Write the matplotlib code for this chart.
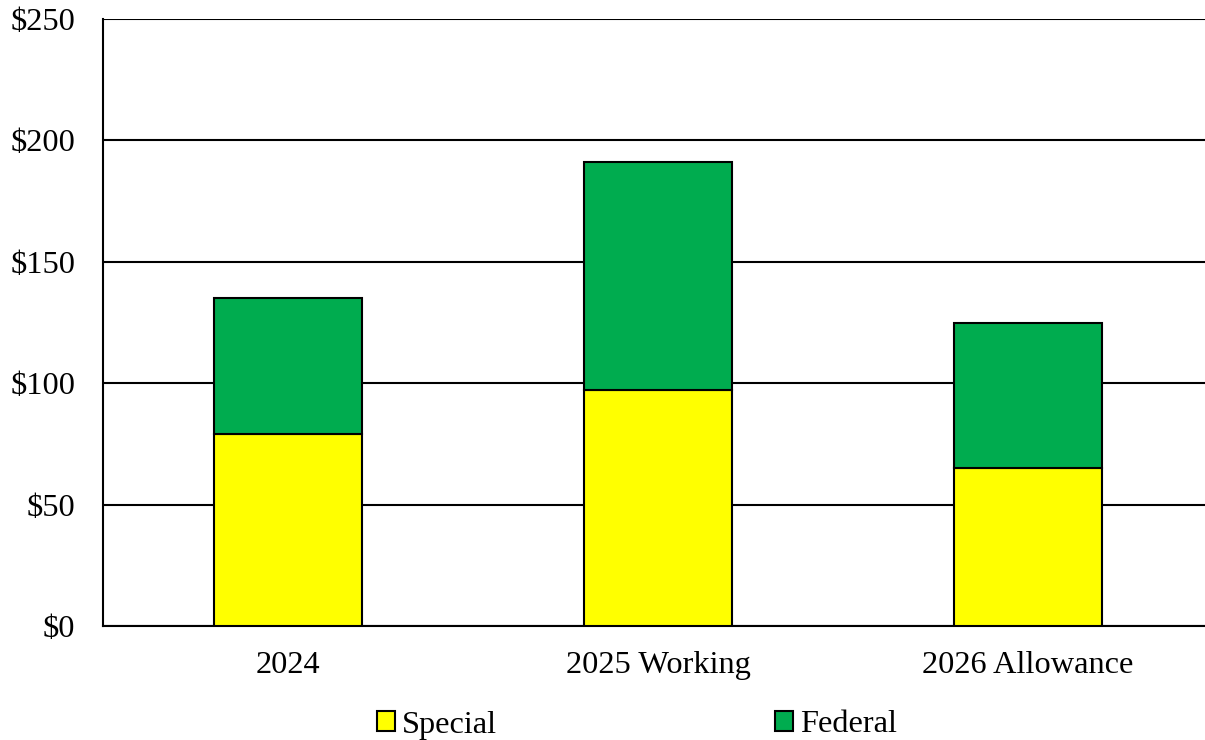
import matplotlib.pyplot as plt
from matplotlib.patches import Patch

plt.rcParams["font.family"] = ["Liberation Serif", "DejaVu Serif"]

categories = ["2024", "2025 Working", "2026 Allowance"]
special = [79, 97, 65]
federal = [56, 94, 60]

fs = 23.3

fig = plt.figure(figsize=(12.05, 7.4), dpi=100)
# axes: left 103px, right past the edge (1213px), top 19px, bottom 626px
ax = fig.add_axes([103 / 1205, 1 - 626 / 740, 1110 / 1205, 607 / 740])

x = range(len(categories))
ax.bar(x, special, width=0.4, color="#ffff00", edgecolor="black", linewidth=1.5, zorder=3)
ax.bar(x, federal, width=0.4, bottom=special, color="#00ac4f", edgecolor="black",
       linewidth=1.5, zorder=3)

ax.set_xlim(-0.5, 2.5)
ax.set_ylim(0, 250)
ax.set_yticks(range(0, 251, 50))
ax.set_yticklabels([f"${v}" for v in range(0, 251, 50)])
ax.set_xticks(list(x))
ax.set_xticklabels(categories)
ax.tick_params(axis="both", length=0, labelsize=fs, colors="black")
ax.tick_params(axis="y", pad=20)
ax.tick_params(axis="x", pad=18)

ax.yaxis.grid(True, color="black", linewidth=1.5, zorder=0)
ax.set_axisbelow(True)
for side in ["top", "right"]:
    ax.spines[side].set_visible(False)
for side in ["left", "bottom"]:
    ax.spines[side].set_linewidth(1.5)

handles = [Patch(facecolor="#ffff00", edgecolor="black", linewidth=1.5),
           Patch(facecolor="#00ac4f", edgecolor="black", linewidth=1.5)]
fig.legend(handles, ["Special", "Federal"], loc="center", bbox_to_anchor=(637 / 1205, 1 - 725 / 740),
           ncol=2, frameon=False, fontsize=fs, handlelength=0.56, handleheight=0.56,
           handletextpad=0.2, columnspacing=8.6, borderpad=0, borderaxespad=0)

fig.savefig("out.png", dpi=100)
